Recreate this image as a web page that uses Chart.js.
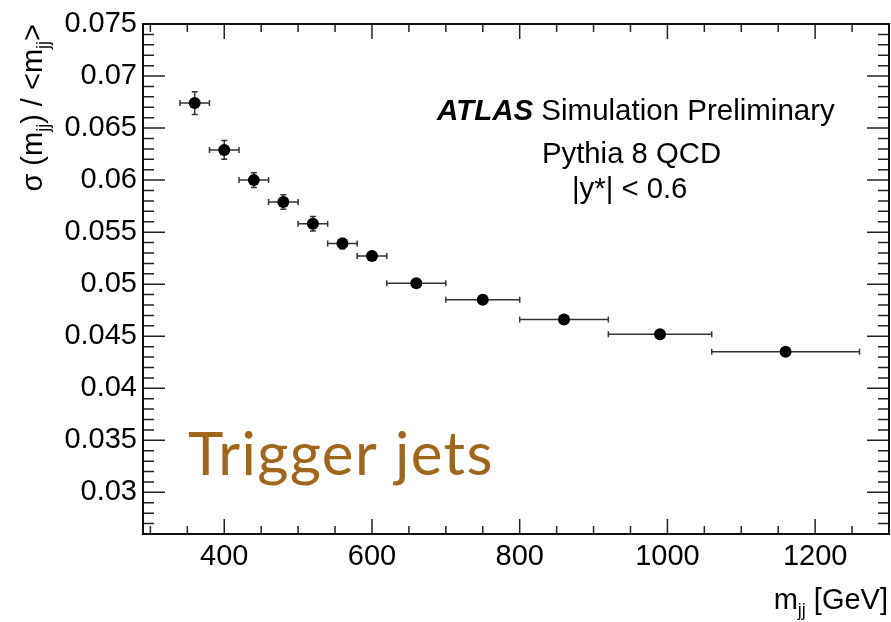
<!DOCTYPE html>
<html lang="en">
<head>
<meta charset="UTF-8">
<title>Dijet mass resolution - trigger jets</title>
<script src="https://cdn.jsdelivr.net/npm/chart.js"></script>
<style>
  html, body { margin: 0; padding: 0; background: #fff; }
  #wrap { width: 891px; height: 622px; }
</style>
</head>
<body>
<div id="wrap"><canvas id="resChart" width="891" height="622"></canvas></div>
<script>
// bin centres and bin edges, m_jj [GeV]
const mjjCenter = [360, 400, 440, 480, 520, 560, 600, 660, 750, 860, 990, 1160];
const mjjLow    = [340, 380, 420, 460, 500, 540, 580, 620, 700, 800, 920, 1060];
const mjjHigh   = [380, 420, 460, 500, 540, 580, 620, 700, 800, 920, 1060, 1260];
// sigma(m_jj) / <m_jj> and its error
const resolution    = [0.0674, 0.0629, 0.0600, 0.0579, 0.0558, 0.0539, 0.0527, 0.0501, 0.0485, 0.0466, 0.0452, 0.0435];
const resolutionErr = [0.0011, 0.0009, 0.0007, 0.0007, 0.0007, 0.0005, 0.0004, 0.0003, 0.0003, 0.0003, 0.0003, 0.0003];

const xTickLabels = [400, 600, 800, 1000, 1200];
const yTickLabels = [0.03, 0.035, 0.04, 0.045, 0.05, 0.055, 0.06, 0.065, 0.07, 0.075];

const FONT = "'Liberation Sans', Arial, Helvetica, sans-serif";

// minor tick positions (every 50 GeV / every 0.001)
const xMinor = [];
for (let v = 300; v <= 1250; v += 50) xMinor.push(v);
const yMinor = [];
for (let k = 26; k <= 75; k++) yMinor.push(k / 1000);

// draws a list of [text, fontSize, dy, style] pieces
function richText(ctx, parts, x, y, align) {
  let total = 0;
  const w = parts.map(p => {
    ctx.font = (p[3] || '') + ' ' + p[1] + 'px ' + FONT;
    const m = ctx.measureText(p[0]).width;
    total += m;
    return m;
  });
  let cx = align === 'right' ? x - total : (align === 'center' ? x - total / 2 : x);
  parts.forEach((p, i) => {
    ctx.font = (p[3] || '') + ' ' + p[1] + 'px ' + FONT;
    ctx.fillText(p[0], cx, y + (p[2] || 0));
    cx += w[i];
  });
}

const rootFrame = {
  id: 'rootFrame',
  beforeDatasetsDraw(chart) {
    const { ctx, scales: { x, y } } = chart;
    ctx.save();
    ctx.strokeStyle = '#333';
    ctx.lineWidth = 1.5;
    const cap = 3;
    mjjCenter.forEach((m, i) => {
      const px = x.getPixelForValue(m);
      const py = y.getPixelForValue(resolution[i]);
      const x0 = x.getPixelForValue(mjjLow[i]);
      const x1 = x.getPixelForValue(mjjHigh[i]);
      const y0 = y.getPixelForValue(resolution[i] - resolutionErr[i]);
      const y1 = y.getPixelForValue(resolution[i] + resolutionErr[i]);
      ctx.beginPath();
      ctx.moveTo(x0, py); ctx.lineTo(x1, py);
      ctx.moveTo(x0, py - cap); ctx.lineTo(x0, py + cap);
      ctx.moveTo(x1, py - cap); ctx.lineTo(x1, py + cap);
      ctx.moveTo(px, y0); ctx.lineTo(px, y1);
      ctx.moveTo(px - cap, y0); ctx.lineTo(px + cap, y0);
      ctx.moveTo(px - cap, y1); ctx.lineTo(px + cap, y1);
      ctx.stroke();
    });
    ctx.restore();
  },
  afterDraw(chart) {
    const { ctx, chartArea: a, scales: { x, y } } = chart;
    ctx.save();
    // ticks on all four sides
    ctx.strokeStyle = '#222';
    ctx.lineWidth = 1.5;
    ctx.beginPath();
    xMinor.forEach(v => {
      const px = x.getPixelForValue(v);
      const len = v % 200 === 0 ? 15 : 8;
      ctx.moveTo(px, a.bottom); ctx.lineTo(px, a.bottom - len);
      ctx.moveTo(px, a.top); ctx.lineTo(px, a.top + len);
    });
    yMinor.forEach(v => {
      const py = y.getPixelForValue(v);
      const len = Math.round(v * 1000) % 5 === 0 ? 22 : 11;
      ctx.moveTo(a.left, py); ctx.lineTo(a.left + len, py);
      ctx.moveTo(a.right, py); ctx.lineTo(a.right - len, py);
    });
    ctx.stroke();
    // frame
    ctx.lineWidth = 2;
    ctx.strokeStyle = '#111';
    ctx.strokeRect(a.left, a.top, a.right - a.left, a.bottom - a.top);

    ctx.fillStyle = '#000';
    ctx.textBaseline = 'alphabetic';
    // x title
    richText(ctx, [['m', 29], ['jj', 18, 7], [' [GeV]', 29]], 888, 609, 'right');
    // y title, rotated and aligned to the top of the axis
    ctx.save();
    ctx.translate(42, 24);
    ctx.rotate(-Math.PI / 2);
    richText(ctx, [['\u03c3 (m', 29], ['jj', 18, 7], [') / <m', 29], ['jj', 18, 7], ['>', 29]], 0, 0, 'right');
    ctx.restore();

    // ATLAS label
    richText(ctx, [['ATLAS', 29.5, 0, 'italic bold'], [' Simulation Preliminary', 29.5]], 437, 120, 'left');
    richText(ctx, [['Pythia 8 QCD', 29.3]], 542, 163, 'left');
    richText(ctx, [['|y*| < 0.6', 29.3]], 572, 198, 'left');

    // sample label
    ctx.fillStyle = '#a0661c';
    ctx.font = "60px Lato, 'Open Sans', sans-serif";
    ctx.letterSpacing = '1.4px';
    ctx.fillText('Trigger jets', 188, 475);
    ctx.restore();
  }
};

const ctx = document.getElementById('resChart').getContext('2d');

new Chart(ctx, {
  type: 'scatter',
  data: {
    datasets: [{
      label: 'Trigger jets',
      data: mjjCenter.map((m, i) => ({ x: m, y: resolution[i] })),
      pointRadius: 6,
      pointHoverRadius: 6,
      pointBorderWidth: 0,
      backgroundColor: '#000',
      borderColor: '#000'
    }]
  },
  options: {
    responsive: false,
    animation: false,
    events: [],
    layout: { autoPadding: false, padding: { top: 24, right: 2, left: 0, bottom: 0 } },
    plugins: {
      legend: { display: false },
      tooltip: { enabled: false }
    },
    scales: {
      x: {
        type: 'linear',
        min: 290,
        max: 1300,
        grid: { display: false, drawTicks: false },
        border: { display: false },
        afterBuildTicks: s => { s.ticks = xMinor.map(v => ({ value: v })); },
        afterFit: s => { s.height = 88; s.paddingLeft = 0; s.paddingRight = 0; },
        ticks: {
          autoSkip: false,
          maxRotation: 0,
          padding: 6,
          color: '#000',
          font: { family: FONT, size: 29 },
          callback: v => xTickLabels.includes(v) ? String(v) : ''
        }
      },
      y: {
        type: 'linear',
        min: 0.026,
        max: 0.075,
        grid: { display: false, drawTicks: false },
        border: { display: false },
        afterBuildTicks: s => { s.ticks = yMinor.map(v => ({ value: v })); },
        afterFit: s => { s.width = 143; },
        ticks: {
          autoSkip: false,
          padding: 6,
          color: '#000',
          font: { family: FONT, size: 29 },
          callback: v => {
            const lab = yTickLabels.find(t => Math.abs(t - v) < 1e-9);
            return lab === undefined ? '' : String(lab);
          }
        }
      }
    }
  },
  plugins: [rootFrame]
});
</script>
</body>
</html>
